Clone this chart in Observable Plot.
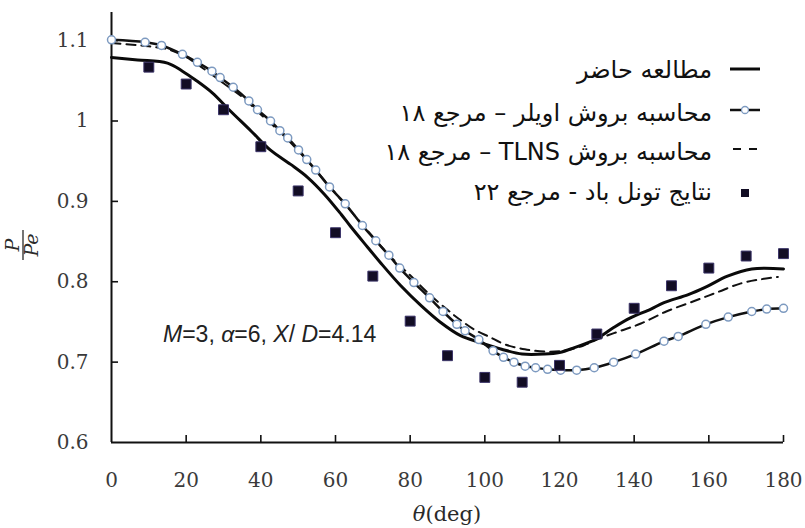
<!DOCTYPE html>
<html><head><meta charset="utf-8">
<script src="https://cdn.jsdelivr.net/npm/d3@7"></script>
<script src="https://cdn.jsdelivr.net/npm/@observablehq/plot@0.6"></script>
<style>
body{margin:0;background:#fff;}
#chart{position:relative;width:805px;height:528px;}
</style>
</head><body><div id="chart"></div>
<script>
// ---- tick labels ----
const xTicks = [0, 20, 40, 60, 80, 100, 120, 140, 160, 180];
const yTicks = [0.6, 0.7, 0.8, 0.9, 1, 1.1];
const yTickLabels = ["0.6", "0.7", "0.8", "0.9", "1", "1.1"];

// ---- series names ----
const seriesNames = [
  "مطالعه حاضر",
  "محاسبه بروش اویلر – مرجع ۱۸",
  "محاسبه بروش TLNS – مرجع ۱۸",
  "نتایج تونل باد - مرجع ۲۲"
];
const annotationParts = [["M", true], ["=3, ", false], ["α", true], ["=6, ", false], ["X", true], ["/", false], [" D", true], ["=4.14", false]];
const xTitle = [["θ", true], ["(deg)", false]];

// ---- present study (solid) ----
const presentTheta = [0, 7, 15, 19, 22.5, 27, 31.5, 37.5, 42.5, 48, 52.5, 57, 61.5, 64, 68.6, 72, 77.5, 83, 88, 93.5, 99, 104.5, 110, 116, 120, 124, 129.5, 134.5, 139, 144.5, 148, 154.5, 159, 165, 171.5, 180];
const presentP     = [1.079, 1.076, 1.072, 1.062, 1.051, 1.035, 1.014, 0.987, 0.964, 0.946, 0.930, 0.909, 0.884, 0.869, 0.843, 0.824, 0.795, 0.770, 0.750, 0.733, 0.724, 0.716, 0.710, 0.710, 0.712, 0.718, 0.728, 0.743, 0.755, 0.766, 0.774, 0.784, 0.793, 0.807, 0.816, 0.816];

// ---- Euler (line + circles) ----
const eulerTheta = [0, 9, 13.4, 19, 23, 26.9, 29.1, 32.6, 36.8, 39.1, 42.6, 45.1, 47.2, 50.1, 52.3, 54.7, 58.4, 62.6, 67.2, 70.8, 74.3, 77.2, 81, 85.2, 88.8, 92.5, 94.7, 98.4, 102.2, 105, 107.8, 110.8, 113.6, 116.8, 120.3, 124.6, 129.3, 134.5, 140.4, 148, 151.8, 159.2, 165.2, 171.5, 175.5, 180];
const eulerP     = [1.101, 1.098, 1.094, 1.083, 1.073, 1.062, 1.054, 1.042, 1.025, 1.014, 1.000, 0.988, 0.979, 0.964, 0.952, 0.939, 0.918, 0.897, 0.870, 0.851, 0.833, 0.817, 0.799, 0.780, 0.763, 0.747, 0.739, 0.728, 0.714, 0.706, 0.700, 0.695, 0.693, 0.691, 0.690, 0.690, 0.693, 0.700, 0.710, 0.726, 0.732, 0.747, 0.756, 0.763, 0.766, 0.767];

// ---- TLNS (dashed) ----
const tlnsTheta = [0, 5.6, 10, 15.3, 19.8, 25, 30, 35, 40, 45, 50, 55, 60, 65, 70, 75, 80, 85, 90, 93, 97, 101.4, 105.4, 110.7, 116.8, 122.2, 126.6, 131, 136.4, 141.8, 148.6, 156.1, 162.3, 168.6, 173.9, 178.5];
const tlnsP     = [1.097, 1.095, 1.093, 1.089, 1.080, 1.064, 1.047, 1.030, 1.008, 0.987, 0.963, 0.937, 0.910, 0.883, 0.856, 0.830, 0.808, 0.785, 0.765, 0.754, 0.741, 0.731, 0.722, 0.716, 0.713, 0.715, 0.721, 0.730, 0.739, 0.748, 0.763, 0.776, 0.787, 0.798, 0.803, 0.806];

// ---- wind tunnel (squares) ----
const windTheta = [10, 20, 30, 40, 50, 60, 70, 80, 90, 100, 110, 120, 130, 140, 150, 160, 170, 180];
const windP     = [1.067, 1.046, 1.014, 0.968, 0.913, 0.861, 0.807, 0.751, 0.708, 0.681, 0.675, 0.696, 0.735, 0.767, 0.795, 0.817, 0.832, 0.835];

const zip = (xs, ys) => xs.map((x, i) => ({theta: x, p: ys[i]}));
const present = zip(presentTheta, presentP);
const euler = zip(eulerTheta, eulerP);
const tlns = zip(tlnsTheta, tlnsP);
const wind = zip(windTheta, windP);

const W = 805, H = 528, mL = 111, mR = 22, mT = 12, mB = 86;
const innerW = W - mL - mR, innerH = H - mT - mB;
const tickLen = 7;

const plot = Plot.plot({
  width: W, height: H,
  marginLeft: mL, marginRight: mR, marginTop: mT, marginBottom: mB,
  x: {domain: [0, 180]},
  y: {domain: [0.6, 1.135]},
  style: {background: "white", fontFamily: "'DejaVu Serif', serif", fontSize: "20px", color: "#3a3a3a"},
  marks: [
    Plot.axisX(xTicks, {tickSize: 0, tickPadding: 30, label: null, fill: "#3a3a3a"}),
    Plot.axisY(yTicks, {tickSize: 0, tickPadding: 23, label: null, fill: "#3a3a3a",
      tickFormat: d => yTickLabels[yTicks.indexOf(d)]}),
    Plot.ruleX(xTicks.filter(d => d > 0), {x: d => d, insetTop: innerH - tickLen, stroke: "#111", strokeWidth: 1.6}),
    Plot.ruleY(yTicks.filter(d => d > 0.6), {y: d => d, insetRight: innerW - tickLen, stroke: "#111", strokeWidth: 1.6}),
    Plot.ruleX([0], {stroke: "#111", strokeWidth: 2}),
    Plot.ruleY([0.6], {stroke: "#111", strokeWidth: 2}),
    Plot.line(tlns, {x: "theta", y: "p", curve: "catmull-rom", stroke: "#111", strokeWidth: 2, strokeDasharray: "9,6"}),
    Plot.line(present, {x: "theta", y: "p", curve: "catmull-rom", stroke: "#0a0a0a", strokeWidth: 3}),
    Plot.line(euler, {x: "theta", y: "p", curve: "catmull-rom", stroke: "#111", strokeWidth: 2.5}),
    Plot.dot(euler, {x: "theta", y: "p", r: 4, fill: "white", stroke: "#7d9ac0", strokeWidth: 1.5}),
    Plot.dot(wind, {x: "theta", y: "p", symbol: "square", r: 5.6, fill: "#120d24", stroke: "#3a3368", strokeWidth: 1})
  ]
});
document.getElementById("chart").appendChild(plot);

// ---- extra text & legend drawn into the same SVG ----
const svg = d3.select(plot);
const g = svg.append("g").attr("text-anchor", "start");

// annotation
const ann = g.append("text").attr("x", 163).attr("y", 342).attr("text-anchor", "start")
  .attr("font-family", "'Liberation Sans', Arial, sans-serif").attr("font-size", 23).attr("fill", "#222");
annotationParts.forEach(([t, it]) => ann.append("tspan").attr("font-style", it ? "italic" : "normal").text(t));

// x title
const xt = g.append("text").attr("x", 447).attr("y", 521).attr("text-anchor", "middle")
  .attr("font-family", "'DejaVu Serif', serif").attr("font-size", 21).attr("fill", "#2a2a2a");
xTitle.forEach(([t, it]) => xt.append("tspan").attr("font-style", it ? "italic" : "normal").text(t));

// y title: rotated fraction P / Pe
const yf = g.append("g").attr("transform", "translate(23,245) rotate(-90)")
  .attr("font-family", "'DejaVu Serif', serif").attr("font-style", "italic").attr("font-size", 19).attr("fill", "#2a2a2a");
yf.append("text").attr("x", 0).attr("y", -4).attr("text-anchor", "middle").text("P");
yf.append("line").attr("x1", -15).attr("x2", 15).attr("y1", 0).attr("y2", 0).attr("stroke", "#2a2a2a").attr("stroke-width", 1.3);
yf.append("text").attr("x", 0).attr("y", 15).attr("text-anchor", "middle").text("Pe");

// legend
const legendRows = [78, 121, 160, 200];
const sampleY = [69, 110, 149, 193];
seriesNames.forEach((name, i) => {
  g.append("text").attr("x", 712).attr("y", legendRows[i]).attr("text-anchor", "end")
    .attr("font-family", "'DejaVu Sans', sans-serif").attr("font-size", 24).attr("fill", "#111")
    .text("\u202B" + name + "\u202C");
});
g.append("line").attr("x1", 730).attr("x2", 760).attr("y1", sampleY[0]).attr("y2", sampleY[0]).attr("stroke", "#0a0a0a").attr("stroke-width", 3);
g.append("line").attr("x1", 730).attr("x2", 760).attr("y1", sampleY[1]).attr("y2", sampleY[1]).attr("stroke", "#111").attr("stroke-width", 2.5);
g.append("circle").attr("cx", 745).attr("cy", sampleY[1]).attr("r", 3.5).attr("fill", "white").attr("stroke", "#7d9ac0").attr("stroke-width", 1.3);
g.append("line").attr("x1", 733).attr("x2", 757).attr("y1", sampleY[2]).attr("y2", sampleY[2]).attr("stroke", "#111").attr("stroke-width", 2).attr("stroke-dasharray", "8,8");
g.append("rect").attr("x", 741).attr("y", sampleY[3] - 4).attr("width", 8).attr("height", 8).attr("fill", "#120d24");
</script>
</body></html>
